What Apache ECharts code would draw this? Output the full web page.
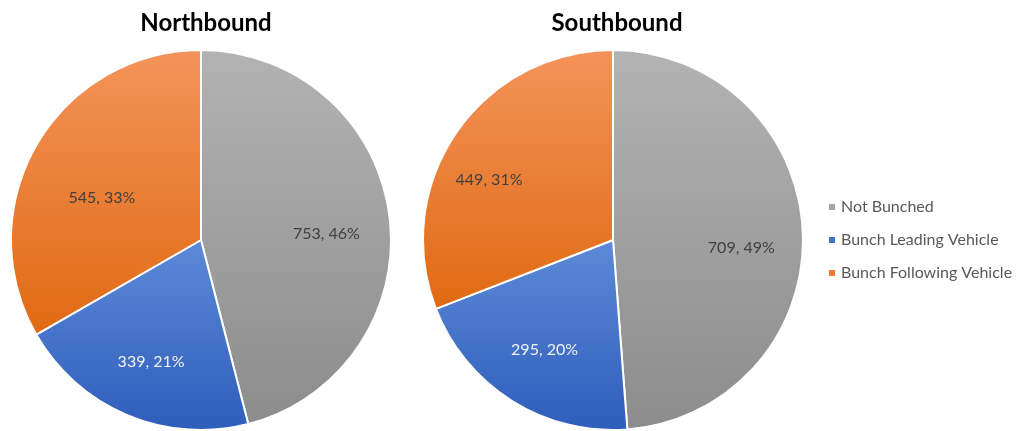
<!DOCTYPE html>
<html>
<head>
<meta charset="utf-8">
<script src="https://cdn.jsdelivr.net/npm/echarts@6/dist/echarts.min.js"></script>
<style>
  html, body { margin: 0; padding: 0; background: #fff; }
  #main { width: 1021px; height: 431px; }
</style>
</head>
<body>
<div id="main"></div>
<script>
// data
var categories = ['Not Bunched', 'Bunch Leading Vehicle', 'Bunch Following Vehicle'];
var northbound = [753, 339, 545];
var southbound = [709, 295, 449];
var titles = ['Northbound', 'Southbound'];

var FONT = 'Lato';
var R = 190;

// gradient per slice, light at top, dark at bottom
function grad(top, bottom) {
  return new echarts.graphic.LinearGradient(0, 0, 0, 1, [
    { offset: 0, color: top },
    { offset: 1, color: bottom }
  ]);
}
var fills = [
  grad('#b3b3b3', '#8c8c8c'),
  grad('#5d8ad8', '#2e5dbb'),
  grad('#f4935a', '#e06a12')
];
var labelColors = ['#404040', '#f2f2f2', '#404040'];
// small nudges so labels sit where the original "best fit" put them
var northNudge = [[-2, 10], [0, 4], [12, 22]];
var southNudge = [[0, 13], [0, 1], [-18, 12]];

function pieData(values) {
  return values.map(function (v, i) {
    return { name: categories[i], value: v, itemStyle: { color: fills[i] } };
  });
}
function labelData(values, nudge) {
  return values.map(function (v, i) {
    return {
      name: categories[i], value: v,
      label: { color: labelColors[i], offset: nudge[i] }
    };
  });
}

function pieSeries(values, cx) {
  return {
    type: 'pie',
    center: [cx, 240],
    radius: [0, R],
    startAngle: 90,
    clockwise: true,
    label: { show: false },
    labelLine: { show: false },
    emphasis: { disabled: true },
    itemStyle: { borderColor: '#fff', borderWidth: 2 },
    data: pieData(values)
  };
}
// transparent ring only used to place labels further out than 'inside' would
function labelSeries(values, cx, nudge) {
  return {
    type: 'pie',
    center: [cx, 240],
    radius: [R * 0.32, R],
    startAngle: 90,
    clockwise: true,
    silent: true,
    itemStyle: { color: 'rgba(0,0,0,0)' },
    labelLine: { show: false },
    label: {
      show: true,
      position: 'inside',
      fontFamily: FONT,
      fontSize: 16,
      formatter: function (p) { return p.value + ', ' + Math.round(p.percent) + '%'; }
    },
    data: labelData(values, nudge)
  };
}

var myChart = echarts.init(document.getElementById('main'));
var option = {
  animation: false,
  title: [
    { text: titles[0], left: 201, top: 6, textAlign: 'center',
      textStyle: { fontFamily: FONT, fontWeight: 'bold', fontSize: 24, color: '#000' } },
    { text: titles[1], left: 612, top: 6, textAlign: 'center',
      textStyle: { fontFamily: FONT, fontWeight: 'bold', fontSize: 24, color: '#000' } }
  ],
  legend: {
    orient: 'vertical',
    left: 822,
    top: 194,
    itemWidth: 8,
    itemHeight: 8,
    itemGap: 17,
    icon: 'rect',
    data: categories.map(function (c, i) {
      return { name: c, itemStyle: { color: ['#a5a5a5', '#4472c4', '#ed7d31'][i] } };
    }),
    textStyle: { fontFamily: FONT, fontSize: 16, color: '#595959' }
  },
  series: [
    pieSeries(northbound, 201),
    labelSeries(northbound, 201, northNudge),
    pieSeries(southbound, 613),
    labelSeries(southbound, 613, southNudge)
  ]
};
myChart.setOption(option);
</script>
</body>
</html>
